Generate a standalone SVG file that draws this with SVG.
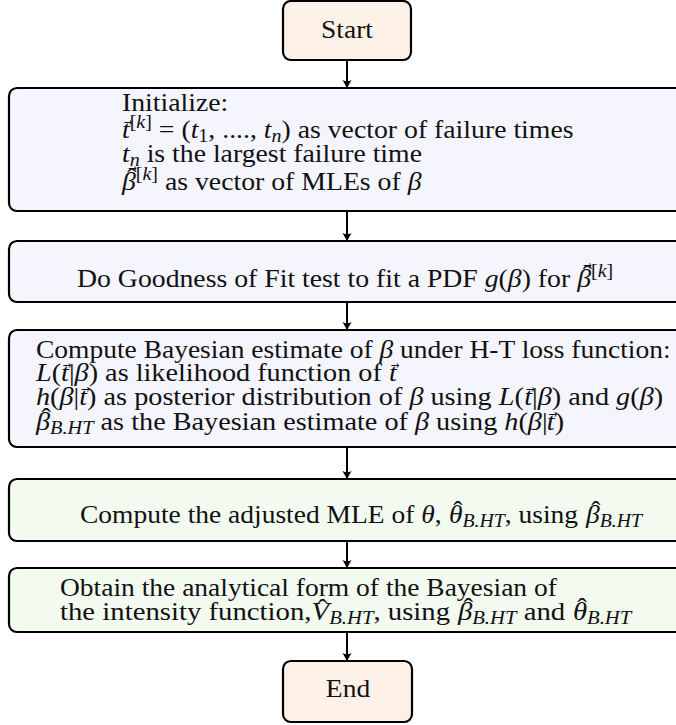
<svg xmlns="http://www.w3.org/2000/svg" width="676" height="725" viewBox="0 0 676 725">
  <style>
    .box { stroke: #000; stroke-width: 2.2; }
    .term { fill: #FDF1E7; }
    .blue { fill: #F5F5FD; }
    .green { fill: #F3FBF1; }
    text { font-family: "Liberation Serif", "DejaVu Serif", serif; font-size: 25px; fill: #111; }
    .m { font-style: italic; }
    .s { font-size: 18px; }
    .hat { text-anchor: middle; }
    .vec { text-anchor: middle; font-size: 21px; }
    .wire { stroke: #000; stroke-width: 2; fill: none; marker-end: url(#head); }
  </style>
  <defs>
    <marker id="head" viewBox="-8 -5 9 10" refX="0" refY="0" markerWidth="9" markerHeight="10" markerUnits="userSpaceOnUse" orient="auto">
      <path d="M0,0 L-8,-4.5 Q-5.5,0 -8,4.5 Z" fill="#000"/>
    </marker>
  </defs>

  <!-- connectors -->
  <g id="connectors">
    <line class="wire" x1="347" y1="60" x2="347" y2="88"/>
    <line class="wire" x1="347" y1="211" x2="347" y2="241"/>
    <line class="wire" x1="347" y1="302" x2="347" y2="330"/>
    <line class="wire" x1="347" y1="447" x2="347" y2="479"/>
    <line class="wire" x1="347" y1="541" x2="347" y2="568"/>
    <line class="wire" x1="347" y1="632" x2="347" y2="661"/>
  </g>

  <g id="start">
    <rect class="box term" x="283" y="1" width="128" height="59" rx="8"/>
    <g transform="translate(347 38) scale(1.1 1)">
      <text x="0" y="0" text-anchor="middle">Start</text>
    </g>
  </g>

  <g id="init">
    <rect class="box blue" x="9" y="88" width="676" height="123" rx="8"/>
    <g transform="translate(122 111) scale(1.11 1)">
      <text x="0" y="0">Initialize:</text>
    </g>
    <g transform="translate(122 138) scale(1.11 1)">
      <text x="0" y="0"><tspan class="m">t</tspan><tspan class="s" dy="-10">[<tspan class="m">k</tspan>]</tspan><tspan dy="10"> = (</tspan><tspan class="m">t</tspan><tspan class="s" dy="4">1</tspan><tspan dy="-4">, ...., </tspan><tspan class="m">t</tspan><tspan class="s m" dy="4">n</tspan><tspan dy="-4">) as vector of failure times</tspan></text>
      <text class="vec" transform="translate(5.5 -12.5) scale(0.55 1)">→</text>
    </g>
    <g transform="translate(122 162) scale(1.11 1)">
      <text x="0" y="0"><tspan class="m">t</tspan><tspan class="s m" dy="4">n</tspan><tspan dy="-4"> is the largest failure time</tspan></text>
    </g>
    <g transform="translate(122 190) scale(1.11 1)">
      <text x="0" y="0"><tspan class="m">β</tspan><tspan class="s" dy="-10">[<tspan class="m">k</tspan>]</tspan><tspan dy="10"> as vector of MLEs of </tspan><tspan class="m">β</tspan></text>
      <text class="hat" x="9" y="-4.2">ˆ</text>
      <text class="vec" transform="translate(9.5 -18.5) scale(0.55 1)">→</text>
    </g>
  </g>

  <g id="gof">
    <rect class="box blue" x="9" y="241" width="676" height="61" rx="8"/>
    <g transform="translate(77 287) scale(1.11 1)">
      <text x="0" y="0">Do Goodness of Fit test to fit a PDF <tspan class="m">g</tspan>(<tspan class="m">β</tspan>) for <tspan class="m" x="450.7">β</tspan><tspan class="s" dy="-10">[<tspan class="m">k</tspan>]</tspan></text>
      <text class="hat" x="459.7" y="-4.2">ˆ</text>
      <text class="vec" transform="translate(460 -18.5) scale(0.55 1)">→</text>
    </g>
  </g>

  <g id="bayes">
    <rect class="box blue" x="9" y="330" width="676" height="117" rx="8"/>
    <g transform="translate(36 358) scale(1.1 1)">
      <text x="0" y="0">Compute Bayesian estimate of <tspan class="m">β</tspan> under H-T loss function:</text>
    </g>
    <g transform="translate(36 381) scale(1.13 1)">
      <text x="0" y="0"><tspan class="m">L</tspan>(<tspan class="m" x="22.2">t</tspan>|<tspan class="m">β</tspan>) as likelihood function of <tspan class="m" x="312.5">t</tspan></text>
      <text class="vec" transform="translate(27.7 -12.5) scale(0.55 1)">→</text>
      <text class="vec" transform="translate(318 -12.5) scale(0.55 1)">→</text>
    </g>
    <g transform="translate(36 405) scale(1.13 1)">
      <text x="0" y="0"><tspan class="m">h</tspan>(<tspan class="m">β</tspan>|<tspan class="m" x="38.3">t</tspan>) as posterior distribution of <tspan class="m">β</tspan> using <tspan class="m">L</tspan>(<tspan class="m" x="432.1">t</tspan>|<tspan class="m">β</tspan>) and <tspan class="m">g</tspan>(<tspan class="m">β</tspan>)</text>
      <text class="vec" transform="translate(43.8 -12.5) scale(0.55 1)">→</text>
      <text class="vec" transform="translate(437.6 -12.5) scale(0.55 1)">→</text>
    </g>
    <g transform="translate(36 430) scale(1.13 1)">
      <text x="0" y="0"><tspan class="m">β</tspan><tspan class="s m" dy="4">B.HT</tspan><tspan dy="-4"> as the Bayesian estimate of </tspan><tspan class="m">β</tspan> using <tspan class="m">h</tspan>(<tspan class="m">β</tspan>|<tspan class="m" x="452.1">t</tspan>)</text>
      <text class="hat" x="9" y="-4.2">ˆ</text>
      <text class="vec" transform="translate(457.6 -12.5) scale(0.55 1)">→</text>
    </g>
  </g>

  <g id="adjusted">
    <rect class="box green" x="9" y="479" width="676" height="62" rx="8"/>
    <g transform="translate(80 523) scale(1.1 1)">
      <text x="0" y="0">Compute the adjusted MLE of <tspan class="m">θ</tspan>, <tspan class="m" x="335.4">θ</tspan><tspan class="s m" dy="4">B.HT</tspan><tspan dy="-4">, using </tspan><tspan class="m" x="460">β</tspan><tspan class="s m" dy="4">B.HT</tspan></text>
      <text class="hat" x="343.4" y="-4.2">ˆ</text>
      <text class="hat" x="469" y="-4.2">ˆ</text>
    </g>
  </g>

  <g id="intensity">
    <rect class="box green" x="9" y="568" width="676" height="64" rx="8"/>
    <g transform="translate(60 596) scale(1.1 1)">
      <text x="0" y="0">Obtain the analytical form of the Bayesian of</text>
    </g>
    <g transform="translate(60 620) scale(1.15 1)">
      <text x="0" y="0">the intensity function,<tspan class="m" x="218.8">V</tspan><tspan class="s m" dy="4">B.HT</tspan><tspan dy="-4">, using </tspan><tspan class="m" x="346">β</tspan><tspan class="s m" dy="4">B.HT</tspan><tspan dy="-4"> and </tspan><tspan class="m" x="446">θ</tspan><tspan class="s m" dy="4">B.HT</tspan></text>
      <text class="hat" x="228.4" y="-3.5">ˆ</text>
      <text class="hat" x="355" y="-4.2">ˆ</text>
      <text class="hat" x="454" y="-4.2">ˆ</text>
    </g>
  </g>

  <g id="end">
    <rect class="box term" x="283" y="661" width="129" height="61" rx="8"/>
    <g transform="translate(348 697) scale(1.1 1)">
      <text x="0" y="0" text-anchor="middle">End</text>
    </g>
  </g>
</svg>
